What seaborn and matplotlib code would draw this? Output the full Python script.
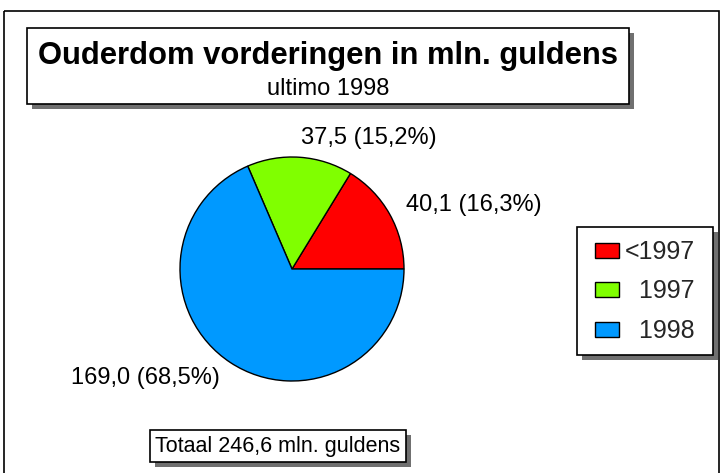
import matplotlib
matplotlib.use("Agg")
import matplotlib.pyplot as plt
from matplotlib.patches import Rectangle
import seaborn as sns

# ---- data ----
categories = ["<1997", "1997", "1998"]
legend_labels = ["<1997", "  1997", "  1998"]
values = [40.1, 37.5, 169.0]
percent_labels = ["40,1 (16,3%)", "37,5 (15,2%)", "169,0 (68,5%)"]
title = "Ouderdom vorderingen in mln. guldens"
subtitle = "ultimo 1998"
total_text = "Totaal 246,6 mln. guldens"
colors = ["#FF0000", "#80FF00", "#0099FF"]

sns.set_theme(style="white")
plt.rcParams["font.family"] = ["Liberation Sans", "DejaVu Sans"]

W, H = 723, 473
fig = plt.figure(figsize=(W / 100, H / 100), dpi=100)
fig.patch.set_facecolor("white")

# overlay axes in pixel coordinates (origin top-left)
ov = fig.add_axes([0, 0, 1, 1])
ov.set_xlim(0, W)
ov.set_ylim(H, 0)
ov.axis("off")
ov.set_zorder(0)

FS = 17            # label text size (pt)
SHADOW = "#707070"

# outer frame
ov.add_patch(Rectangle((4, 11), 715, 480, fill=False, edgecolor="black",
                       linewidth=1.2, clip_on=False))


def box(x0, y0, x1, y1):
    ov.add_patch(Rectangle((x0 + 5, y0 + 5), x1 - x0, y1 - y0,
                           facecolor=SHADOW, edgecolor="none", zorder=2))
    ov.add_patch(Rectangle((x0, y0), x1 - x0, y1 - y0, facecolor="white",
                           edgecolor="black", linewidth=1.2, zorder=3))


# title box
box(27, 28, 629, 104)
ov.text(328, 56, title, ha="center", va="center", fontsize=22.3,
        fontweight="bold", color="black", zorder=4)
ov.text(328, 89, subtitle, ha="center", va="center", fontsize=FS,
        color="black", zorder=4)

# total box
box(150, 430, 406, 462)
ov.text(278, 446.5, total_text, ha="center", va="center", fontsize=15.5,
        color="black", zorder=4)

# legend box
box(577, 227, 713, 355)

# pie axes: centre (292, 269) px, radius 112 px
cx, cy, r = 292, 269, 112
ax = fig.add_axes([(cx - r) / W, (H - cy - r) / H, 2 * r / W, 2 * r / H])
ax.set_zorder(5)
wedges, texts = ax.pie(values, labels=percent_labels, colors=colors,
                       startangle=0, counterclock=True, labeldistance=1.17,
                       wedgeprops=dict(edgecolor="black", linewidth=1.0),
                       textprops=dict(fontsize=FS, color="black"))
ax.set_xlim(-1, 1)
ax.set_ylim(-1, 1)
ax.set_aspect("equal")
ax.axis("off")

leg = fig.legend(wedges, legend_labels, loc="center",
                 bbox_to_anchor=((577 + 713) / 2 / W, 1 - (227 + 356) / 2 / H),
                 frameon=False, fontsize=18, handlelength=0.96,
                 handleheight=0.56, handletextpad=0.24, labelspacing=0.62,
                 borderpad=0.0)
leg.set_zorder(10)

fig.savefig("out.png", dpi=100, facecolor="white")
